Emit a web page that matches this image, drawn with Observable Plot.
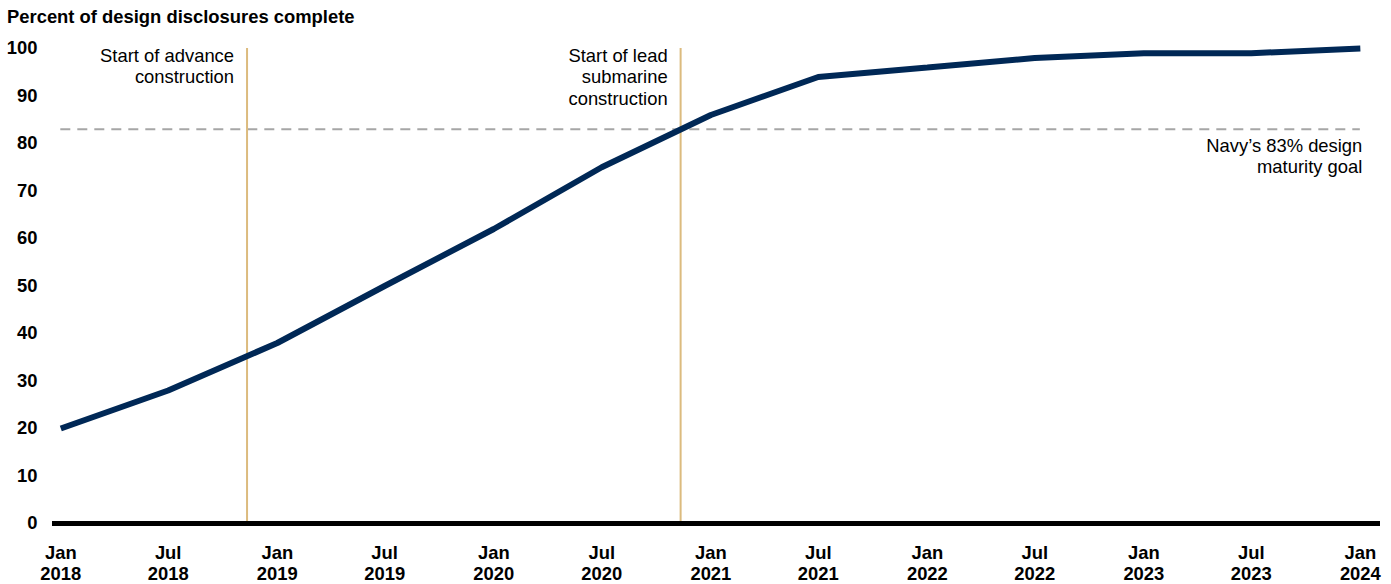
<!DOCTYPE html>
<html>
<head>
<meta charset="utf-8">
<script src="https://cdn.jsdelivr.net/npm/d3@7"></script>
<script src="https://cdn.jsdelivr.net/npm/@observablehq/plot@0.6"></script>
<style>
  body { margin: 0; background: #fff; font-family: "Liberation Sans", Arial, sans-serif; }
  #title { height: 30px; padding-left: 7px; font-weight: bold; font-size: 18.4px; line-height: 34px; color: #000; white-space: nowrap; }
</style>
</head>
<body>
<div id="title">Percent of design disclosures complete</div>
<div id="chart"></div>
<script>
// Data
const dates = ["2018-01-01","2018-07-01","2019-01-01","2019-07-01","2020-01-01","2020-07-01","2021-01-01","2021-07-01","2022-01-01","2022-07-01","2023-01-01","2023-07-01","2024-01-01"];
const percentComplete = [20, 28, 38, 50, 62, 75, 86, 94, 96, 98, 99, 99, 100];
const tickMonths = ["Jan","Jul","Jan","Jul","Jan","Jul","Jan","Jul","Jan","Jul","Jan","Jul","Jan"];
const tickYears = ["2018","2018","2019","2019","2020","2020","2021","2021","2022","2022","2023","2023","2024"];
const yTicks = [0,10,20,30,40,50,60,70,80,90,100];
const milestoneDates = ["2018-11-11", "2020-11-11"];
const milestoneLabels = ["Start of advance\nconstruction", "Start of lead\nsubmarine\nconstruction"];
const goalValue = 83;
const goalLabel = "Navy’s 83% design\nmaturity goal";
const xDomain = ["2017-12-18", "2024-02-04"];

const parse = d3.utcParse("%Y-%m-%d");
const data = dates.map((d, i) => ({date: parse(d), value: percentComplete[i]}));
const tickDates = dates.map(parse);
const tickLabel = new Map(tickDates.map((d, i) => [+d, tickMonths[i] + "\n" + tickYears[i]]));
const milestones = milestoneDates.map((d, i) => ({date: parse(d), label: milestoneLabels[i]}));

const FS = 18.4;
const chart = Plot.plot({
  width: 1391,
  height: 554,
  marginTop: 18,
  marginBottom: 61,
  marginLeft: 52,
  marginRight: 11,
  style: {fontFamily: "'Liberation Sans', Arial, sans-serif", fontSize: FS + "px", color: "#000", background: "#fff"},
  x: {type: "utc", domain: xDomain.map(parse)},
  y: {domain: [0, 100]},
  marks: [
    Plot.axisY({ticks: yTicks, tickSize: 0, tickPadding: 15, fontWeight: "bold", fontSize: FS, label: null}),
    Plot.axisX({ticks: tickDates, tickFormat: d => tickLabel.get(+d), tickSize: 0, tickPadding: 20, fontWeight: "bold", fontSize: FS, lineHeight: 1.15, label: null}),
    Plot.ruleY([goalValue], {x1: tickDates[0], x2: tickDates[tickDates.length - 1], stroke: "#a6a6a6", strokeWidth: 2, strokeDasharray: "10,7"}),
    Plot.ruleX(milestones, {x: "date", stroke: "#dcbb7e", strokeWidth: 2}),
    Plot.line(data, {x: "date", y: "value", stroke: "#002856", strokeWidth: 6, strokeLinecap: "butt", strokeLinejoin: "miter"}),
    Plot.ruleY([0], {stroke: "#000", strokeWidth: 5}),
    Plot.text(milestones, {x: "date", y: 100, text: "label", textAnchor: "end", lineAnchor: "top", dx: -13, dy: -2, fontSize: FS, lineHeight: 1.17, fill: "#000"}),
    Plot.text([goalLabel], {x: tickDates[tickDates.length - 1], y: goalValue, text: d => d, textAnchor: "end", lineAnchor: "top", dy: 8, dx: 2, fontSize: FS, lineHeight: 1.15, fill: "#000"})
  ]
});
document.getElementById("chart").appendChild(chart);
</script>
</body>
</html>
